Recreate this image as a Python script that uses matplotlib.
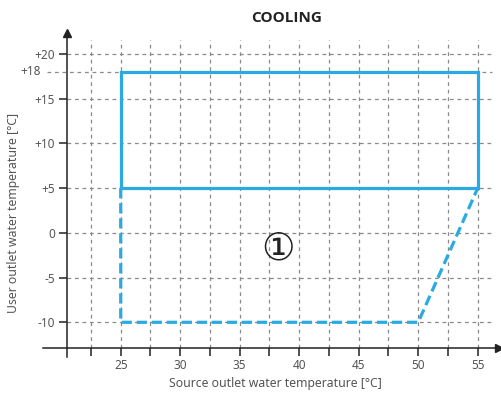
import numpy as np
from matplotlib import pyplot as plt

# values
x_labels = [25, 30, 35, 40, 45, 50, 55]
x_minor = [22.5, 27.5, 32.5, 37.5, 42.5, 47.5, 52.5]
y_ticks = [-10, -5, 0, 5, 10, 15, 20]
y_tick_labels = ["-10", "-5", "0", "+5", "+10", "+15", "+20"]
grid_y = [-10, -5, 0, 5, 10, 15, 18, 20]
grid_x = [22.5, 25, 27.5, 30, 32.5, 35, 37.5, 40, 42.5, 45, 47.5, 50, 52.5, 55]

# operating envelope
solid_x = [25, 25, 55, 55, 25]
solid_y = [5, 18, 18, 5, 5]
dashed_x = [25, 25, 50, 55]
dashed_y = [5, -10, -10, 5]

blue = "#29abe2"
gray = "#8a8a8a"
font = "Noto Sans"
plt.rcParams['font.family'] = [font, 'DejaVu Sans']

W, H = 501, 394
fig = plt.figure(figsize=(W / 100, H / 100), dpi=100)
# axes box in pixels: left 43, right 499, top 33, bottom 357
ax = fig.add_axes([43 / W, 1 - 357 / H, (499 - 43) / W, (357 - 33) / H])
ax.set_xlim(18.47, 56.79)
ax.set_ylim(-13.88, 22.35)

x_axis_y = -12.84
y_axis_x = 20.46

for s in ["top", "right"]:
    ax.spines[s].set_visible(False)
ax.spines["left"].set_position(("data", y_axis_x))
ax.spines["bottom"].set_position(("data", x_axis_y))
for s in ["left", "bottom"]:
    ax.spines[s].set_color("#222222")
    ax.spines[s].set_linewidth(1.1)

# arrow heads
ax.plot(1, x_axis_y, ">", color="#222222", ms=5.5, transform=ax.get_yaxis_transform(), clip_on=False)
ax.plot(y_axis_x, 1, "^", color="#222222", ms=5.5, transform=ax.get_xaxis_transform(), clip_on=False)

# grid
ax.hlines([g for g in grid_y if g != 18], y_axis_x, 56.2, colors=gray, linestyles=(0, (3, 3)), lw=0.9, zorder=1)
ax.hlines([18], 18.8, 56.2, colors=gray, linestyles=(0, (3, 3)), lw=0.9, zorder=1)
ax.vlines(grid_x, x_axis_y, 21.57, colors=gray, linestyles=(0, (3, 3)), lw=0.9, zorder=1)

ax.set_xticks(x_labels)
ax.set_xticklabels([str(v) for v in x_labels])
ax.set_xticks(x_minor, minor=True)
ax.set_yticks(y_ticks)
ax.set_yticklabels(y_tick_labels)
ax.tick_params(axis="both", which="both", direction="out", length=5.5, width=1.1,
               color="#222222", labelcolor="#555555", labelsize=8.5, pad=3)
ax.tick_params(axis="x", pad=2.5)
ax.text(18.28, 18, "+18", ha="right", va="center", fontsize=8.5, color="#555555", clip_on=False)

ax.plot(solid_x, solid_y, color=blue, lw=2.3, solid_joinstyle="miter", zorder=3)
ax.plot(dashed_x, dashed_y, color=blue, lw=2.3, linestyle=(0, (3.2, 1.5)), zorder=3)

ax.text(38.2, -1.9, "\u2460", ha="center", va="center", fontsize=27, color="#222222",
        family=['DejaVu Sans', 'Noto Sans CJK SC'])

fig.text(287 / W, 1 - 18 / H, "COOLING", ha="center", va="center", fontsize=11,
         fontweight="bold", color="#222222", family=["Open Sans", "DejaVu Sans"])
fig.text(275 / W, 1 - 383 / H, "Source outlet water temperature [°C]", ha="center", va="center",
         fontsize=8.8, color="#555555")
fig.text(14 / W, 1 - 213 / H, "User outlet water temperature [°C]", ha="center", va="center",
         rotation=90, fontsize=8.8, color="#555555")

plt.savefig("out.png", dpi=100)
